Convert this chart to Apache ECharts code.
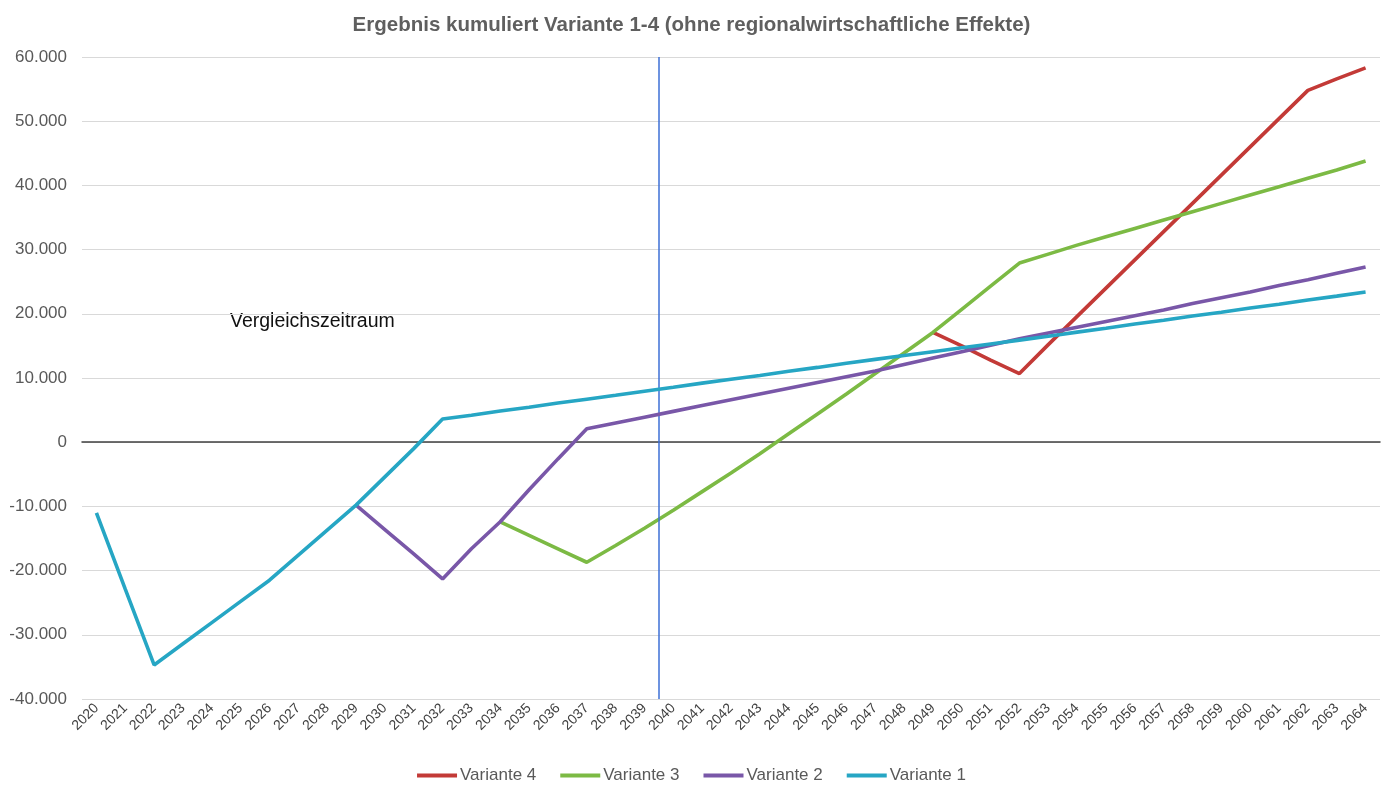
<!DOCTYPE html>
<html>
<head>
<meta charset="utf-8">
<title>Ergebnis kumuliert Variante 1-4</title>
<script src="https://cdn.jsdelivr.net/npm/echarts@6/dist/echarts.min.js"></script>
<style>
  html, body { margin: 0; padding: 0; background: #fff; }
  #chart { width: 1383px; height: 794px; }
</style>
</head>
<body>
<div id="chart"></div>
<script>
// Jahre (Kategorien)
const years = [
  "2020", "2021", "2022", "2023", "2024", "2025", "2026", "2027", "2028", "2029",
  "2030", "2031", "2032", "2033", "2034", "2035", "2036", "2037", "2038", "2039",
  "2040", "2041", "2042", "2043", "2044", "2045", "2046", "2047", "2048", "2049",
  "2050", "2051", "2052", "2053", "2054", "2055", "2056", "2057", "2058", "2059",
  "2060", "2061", "2062", "2063", "2064"
];

// Werte (null = Linie noch nicht sichtbar)
const variante1 = [
  -11000, -22900, -34700, -31400, -28100, -24800, -21500, -17600, -13700, -9800,
  -5400, -1000, 3600, 4200, 4850, 5450, 6100, 6700, 7300, 7950,
  8550, 9200, 9800, 10400, 11050, 11650, 12300, 12900, 13500, 14100,
  14700, 15300, 15900, 16500, 17150, 17750, 18400, 19000, 19650, 20250,
  20900, 21500, 22150, 22750, 23400
];
const variante2 = [
  null, null, null, null, null, null, null, null, null, -9800,
  -13600, -17400, -21300, -16600, -12400, -7400, -2600, 2100, 3000, 3900,
  4800, 5700, 6600, 7500, 8400, 9300, 10200, 11100, 12100, 13100,
  14100, 15100, 16100, 17000, 17900, 18800, 19700, 20600, 21600, 22500,
  23400, 24400, 25300, 26300, 27300
];
const variante3 = [
  null, null, null, null, null, null, null, null, null, null,
  null, null, null, null, -12400, -14500, -16600, -18700, -16100, -13400,
  -10600, -7700, -4800, -1800, 1300, 4400, 7500, 10700, 13900, 17100,
  20700, 24300, 27900, 29300, 30700, 32000, 33300, 34600, 35900, 37200,
  38500, 39800, 41100, 42400, 43800
];
const variante4 = [
  null, null, null, null, null, null, null, null, null, null,
  null, null, null, null, null, null, null, null, null, null,
  null, null, null, null, null, null, null, null, null, 17100,
  15000, 12800, 10700, 15200, 19600, 24000, 28400, 32800, 37200, 41600,
  46000, 50400, 54800, 56600, 58300
];

const seriesNames = ["Variante 4", "Variante 3", "Variante 2", "Variante 1"];
const seriesColors = ["#C33A37", "#7CBA44", "#7957A8", "#26A6C4"];
const seriesData = [variante4, variante3, variante2, variante1];

// y-Achse
const yMin = -40000;
const yMax = 60000;
const yStep = 10000;

// Grenze Vergleichszeitraum (zwischen 2039 und 2040)
const markYear = 2039.5;

const fontFamily = "'Liberation Sans', Arial, sans-serif";

// Tausenderpunkt wie im Original
const formatDe = (v) => {
  const s = String(Math.abs(v)).replace(/\B(?=(\d{3})+(?!\d))/g, ".");
  return (v < 0 ? "-" : "") + s;
};

const myChart = echarts.init(document.getElementById("chart"));

const series = seriesNames.map((name, i) => ({
  name: name,
  type: "line",
  data: seriesData[i],
  symbol: "none",
  connectNulls: false,
  lineStyle: { width: 3.6, color: seriesColors[i] },
  itemStyle: { color: seriesColors[i] },
  z: 3 + i,
}));

// senkrechte Linie über eine versteckte Wertachse
series.push({
  name: "Grenze",
  type: "line",
  xAxisIndex: 1,
  data: [],
  markLine: {
    silent: true,
    symbol: "none",
    label: { show: false },
    lineStyle: { color: "#3D6FD6", width: 1.5, type: "solid" },
    data: [{ xAxis: markYear }],
  },
});

const option = {
  backgroundColor: "#ffffff",
  animation: false,
  title: {
    text: "Ergebnis kumuliert Variante 1-4 (ohne regionalwirtschaftliche Effekte)",
    left: "center",
    top: 10,
    textStyle: {
      fontFamily: fontFamily,
      fontSize: 20.5,
      fontWeight: "bold",
      color: "#5f5f5f",
    },
  },
  legend: {
    data: seriesNames,
    bottom: 5,
    left: "center",
    icon: "rect",
    itemWidth: 40,
    itemHeight: 4,
    itemGap: 24,
    textStyle: { fontFamily: fontFamily, fontSize: 17, color: "#595959", padding: [0, 0, 0, -2] },
  },
  grid: {
    left: 82,
    right: 3,
    top: 57,
    bottom: 95,
    containLabel: false,
  },
  xAxis: [
    {
      type: "category",
      data: years,
      boundaryGap: true,
      axisLine: { onZero: true, lineStyle: { color: "#404040", width: 1.5 } },
      axisTick: { show: false },
      axisLabel: {
        interval: 0,
        rotate: 45,
        margin: 7,
        fontFamily: fontFamily,
        fontSize: 14,
        color: "#404040",
      },
    },
    {
      type: "value",
      min: 2019.5,
      max: 2064.5,
      show: false,
    },
  ],
  yAxis: {
    type: "value",
    min: yMin,
    max: yMax,
    interval: yStep,
    axisLine: { show: false },
    axisTick: { show: false },
    axisLabel: {
      margin: 15,
      fontFamily: fontFamily,
      fontSize: 17,
      color: "#595959",
      formatter: formatDe,
    },
    splitLine: { lineStyle: { color: "#D9D9D9", width: 1.2 } },
  },
  graphic: [
    {
      type: "text",
      left: 230,
      top: 312,
      style: {
        text: "Vergleichszeitraum",
        font: "19.5px " + fontFamily,
        fill: "#111111",
      },
    },
  ],
  series: series,
};

// 绘制图表
myChart.setOption(option);
window.onresize = function () {
  myChart.resize();
};
</script>
</body>
</html>
